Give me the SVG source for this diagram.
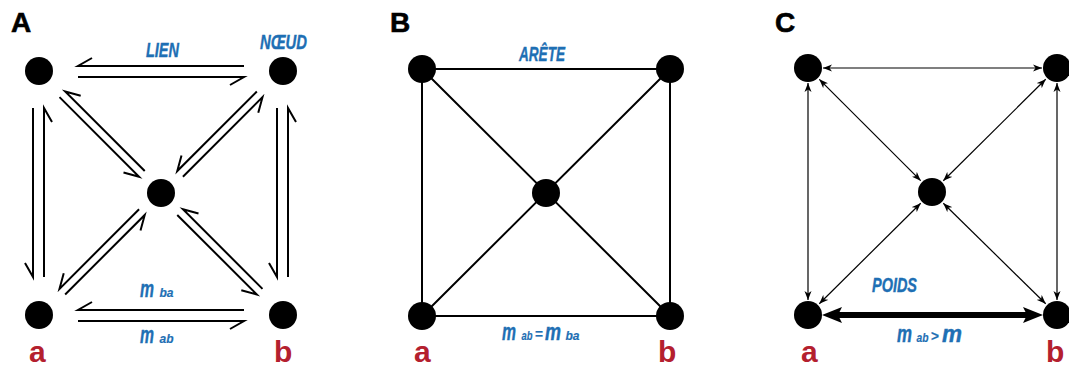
<svg xmlns="http://www.w3.org/2000/svg" width="1069" height="369" viewBox="0 0 1069 369">
<style>
.node{fill:#000}
.ln{stroke:#000;stroke-width:2;fill:none}
.h{stroke:#000;stroke-width:2;fill:none;stroke-linecap:butt;stroke-linejoin:miter}
.thin{stroke:#000;stroke-width:1.2;fill:none;marker-start:url(#ah);marker-end:url(#ah)}
.panel{font-family:"Liberation Sans",Arial,sans-serif;font-weight:bold;font-size:28px;fill:#000;stroke:#000;stroke-width:0.6}
.lab{font-family:"Liberation Sans",Arial,sans-serif;font-weight:bold;font-style:italic;font-size:21px;fill:#1e6fb4;stroke:#1e6fb4;stroke-width:0.4}
.red{font-family:"Liberation Sans",Arial,sans-serif;font-weight:bold;font-size:30px;fill:#b4202e}
.big{font-size:23px}
.sub{font-size:13px;stroke-width:0.2}
.op{font-size:15px;font-style:normal;stroke-width:0.2}
</style>
<defs>
<marker id="ah" markerUnits="userSpaceOnUse" markerWidth="10" markerHeight="8" refX="9" refY="4" orient="auto-start-reverse">
<path d="M0,0.5 L9,4 L0,7.5 L2.5,4 Z" fill="#000"/>
</marker>
</defs>

<text class="panel" x="11" y="32">A</text>
<text class="panel" x="390" y="32">B</text>
<text class="panel" x="775" y="32">C</text>

<g id="connectors">
<!-- Panel A harpoons -->
<path class="h" d="M244,66 H78 L92,58"/>
<path class="h" d="M78,77 H244 L230,85"/>
<path class="h" d="M244,310 H78 L92,302"/>
<path class="h" d="M78,321 H244 L230,329"/>
<path class="h" d="M33,108 V277 L25,263"/>
<path class="h" d="M44,277 V108 L52,122"/>
<path class="h" d="M277,108 V277 L269,263"/>
<path class="h" d="M288,277 V108 L296,122"/>
<path class="h" d="M144.74,171.08 L65.16,91.5 L80.7,95.7"/>
<path class="h" d="M59.5,97.16 L139.08,176.74 L123.5,172.5"/>
<path class="h" d="M256.84,91.5 L177.26,171.08 L181.5,155.5"/>
<path class="h" d="M182.92,176.74 L262.5,97.16 L258.26,112.72"/>
<path class="h" d="M139.08,209.26 L59.5,288.84 L63.74,273.28"/>
<path class="h" d="M65.16,294.5 L144.74,214.92 L140.5,230.5"/>
<path class="h" d="M262.5,288.84 L182.92,209.26 L198.5,213.5"/>
<path class="h" d="M177.26,214.92 L256.84,294.5 L241.3,290.3"/>
<!-- Panel B edges -->
<path class="ln" d="M422,69 H670 V316 H422 Z"/>
<path class="ln" d="M422,69 L670,316 M670,69 L422,316"/>
<!-- Panel C arrows -->
<line class="thin" x1="823" y1="68" x2="1042" y2="68"/>
<line class="thin" x1="808" y1="83" x2="808" y2="300"/>
<line class="thin" x1="1057" y1="83" x2="1057" y2="300"/>
<line class="thin" x1="819.3" y1="79.3" x2="920.7" y2="180.7"/>
<line class="thin" x1="1045.7" y1="79.3" x2="943.3" y2="180.7"/>
<line class="thin" x1="819.3" y1="303.7" x2="920.7" y2="203.3"/>
<line class="thin" x1="1045.7" y1="303.7" x2="943.3" y2="203.3"/>
<line x1="836" y1="315" x2="1029" y2="315" stroke="#000" stroke-width="6"/>
<path d="M822,315 L842,307 L838,315 L842,323 Z" fill="#000"/>
<path d="M1043,315 L1023,307 L1027,315 L1023,323 Z" fill="#000"/>
</g>

<!-- Panel A nodes -->
<g id="A-tl"><circle class="node" cx="39" cy="71" r="14"/></g>
<g id="A-tr"><circle class="node" cx="283" cy="71" r="14"/><text class="lab" x="260" y="49" textLength="47" lengthAdjust="spacingAndGlyphs">NŒUD</text></g>
<g id="A-c"><circle class="node" cx="161" cy="193" r="14"/></g>
<g id="A-a"><circle class="node" cx="39" cy="315" r="14"/><text class="red" x="29" y="362">a</text></g>
<g id="A-b"><circle class="node" cx="283" cy="315" r="14"/><text class="red" x="274" y="362">b</text></g>
<text class="lab" x="146" y="57" textLength="33" lengthAdjust="spacingAndGlyphs">LIEN</text>
<text class="lab big" x="140" y="297" textLength="14" lengthAdjust="spacingAndGlyphs">m</text>
<text class="lab sub" x="159.5" y="297" textLength="14" lengthAdjust="spacingAndGlyphs">ba</text>
<text class="lab big" x="140" y="343" textLength="14" lengthAdjust="spacingAndGlyphs">m</text>
<text class="lab sub" x="159.5" y="343" textLength="14" lengthAdjust="spacingAndGlyphs">ab</text>

<!-- Panel B nodes -->
<g id="B-tl"><circle class="node" cx="422" cy="69" r="14"/></g>
<g id="B-tr"><circle class="node" cx="670" cy="69" r="14"/></g>
<g id="B-c"><circle class="node" cx="546" cy="193" r="14"/></g>
<g id="B-a"><circle class="node" cx="422" cy="316" r="14"/><text class="red" x="414" y="362">a</text></g>
<g id="B-b"><circle class="node" cx="670" cy="316" r="14"/><text class="red" x="658" y="362">b</text></g>
<text class="lab" x="519" y="61" textLength="46" lengthAdjust="spacingAndGlyphs">ARÊTE</text>
<text class="lab big" x="502" y="340" textLength="14" lengthAdjust="spacingAndGlyphs">m</text>
<text class="lab sub" x="521.5" y="340" textLength="11" lengthAdjust="spacingAndGlyphs">ab</text>
<text class="lab op" x="535" y="339" textLength="8" lengthAdjust="spacingAndGlyphs">=</text>
<text class="lab big" x="545" y="340" textLength="16" lengthAdjust="spacingAndGlyphs">m</text>
<text class="lab sub" x="565.5" y="340" textLength="14" lengthAdjust="spacingAndGlyphs">ba</text>

<!-- Panel C nodes -->
<g id="C-tl"><circle class="node" cx="808" cy="68" r="14"/></g>
<g id="C-tr"><circle class="node" cx="1057" cy="68" r="14"/></g>
<g id="C-c"><circle class="node" cx="932" cy="192" r="14"/></g>
<g id="C-a"><circle class="node" cx="808" cy="315" r="14"/><text class="red" x="801" y="362">a</text></g>
<g id="C-b"><circle class="node" cx="1057" cy="315" r="14"/><text class="red" x="1046" y="362">b</text></g>
<text class="lab" x="872" y="292" textLength="45" lengthAdjust="spacingAndGlyphs">POIDS</text>
<text class="lab big" x="897" y="342" textLength="15" lengthAdjust="spacingAndGlyphs">m</text>
<text class="lab sub" x="916.5" y="342" textLength="12" lengthAdjust="spacingAndGlyphs">ab</text>
<text class="lab op" x="931" y="341" textLength="8" lengthAdjust="spacingAndGlyphs">&gt;</text>
<text class="lab big" x="942" y="342" textLength="20" lengthAdjust="spacingAndGlyphs">m</text>
</svg>
